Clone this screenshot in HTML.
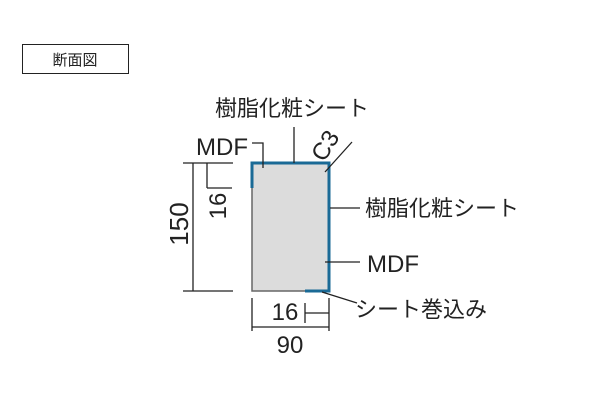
<!DOCTYPE html>
<html><head><meta charset="utf-8"><style>
html,body{margin:0;padding:0;background:#fff;width:600px;height:400px;overflow:hidden}
text{font-family:"Liberation Sans","Noto Sans CJK JP",sans-serif;fill:#222}
</style></head><body>
<svg width="600" height="400" viewBox="0 0 600 400" xmlns="http://www.w3.org/2000/svg">
<rect x="22.5" y="44.5" width="106" height="29" fill="none" stroke="#222" stroke-width="1"/>
<text x="75" y="65" font-size="15" text-anchor="middle">断面図</text>
<rect x="252" y="163" width="77" height="128" fill="#dcdcdc" stroke="#666" stroke-width="1.5"/>
<g stroke="#1a6a96" stroke-width="3" fill="none">
<path d="M252 188 V163 H329 V291 H305"/>
</g>
<g stroke="#222" stroke-width="1.3" fill="none">
<path d="M193 163 V291 M183 163 H233 M183 291 H233"/>
<path d="M207 163 V188 M207 188 H232"/>
<path d="M252 298 V331 M329 298 V331 M252 327 H329"/>
<path d="M305 303 V323 M305 313 H329"/>
<path d="M252 143 H263 V168"/>
<path d="M294 127 V163"/>
<path d="M325 172 L352 142"/>
<path d="M330 208 H360"/>
<path d="M325 262 H360"/>
<path d="M322 292 L357 303"/>
</g>
<text x="215" y="116" font-size="22">樹脂化粧シート</text>
<text x="196" y="155" font-size="24">MDF</text>
<text x="0" y="0" font-size="24" transform="translate(324,163) rotate(-58)">C3</text>
<text x="365" y="216" font-size="22">樹脂化粧シート</text>
<text x="367" y="272" font-size="24">MDF</text>
<text x="355" y="317" font-size="22">シート巻込み</text>
<text x="0" y="0" font-size="26" text-anchor="middle" transform="translate(188,224) rotate(-90)">150</text>
<text x="0" y="0" font-size="24" text-anchor="middle" transform="translate(226,206) rotate(-90)">16</text>
<text x="285" y="320" font-size="24" text-anchor="middle">16</text>
<text x="290" y="353" font-size="24" text-anchor="middle">90</text>
</svg>
</body></html>
